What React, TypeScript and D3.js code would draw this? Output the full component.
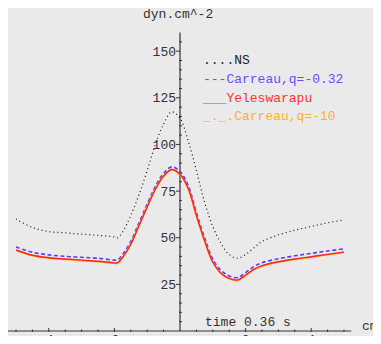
import React, { useRef, useEffect } from 'react';
import * as d3 from 'd3';

// distance along vessel (cm)
const xs = [-5, -4.5, -4, -3.5, -3, -2.5, -2, -1.9, -1.75, -1.5, -1.25, -1, -0.75, -0.5, -0.25, 0, 0.25, 0.5, 0.75, 1, 1.25, 1.5, 1.75, 2, 2.25, 2.5, 3, 3.5, 4, 4.5, 5];

// wall shear stress (dyn.cm^-2)
const nsValues = [60, 55.5, 53.3, 52.6, 51.9, 51.3, 50.4, 50, 53, 62, 73, 86, 100, 111, 117.5, 114, 102, 86, 69, 56, 47, 41, 39, 41, 44.5, 48, 51.5, 54, 56, 58, 59.5];
const carreauValues = [45, 42.2, 40.8, 40, 39.5, 39, 38, 38.1, 41, 48, 58, 68, 77.5, 84.5, 88, 85.5, 78, 63.5, 50, 38.5, 32.5, 29.5, 28.6, 31.3, 34.5, 36.6, 38.7, 40.3, 41.6, 42.9, 44];
const yeleValues = [43.4, 40.6, 39.3, 38.6, 38, 37.4, 36.5, 36.6, 39.5, 46.5, 56.5, 66.5, 76, 83, 86.6, 84, 76.5, 62, 48.5, 37, 31, 28.2, 27.3, 30, 33, 35, 37.1, 38.6, 39.8, 41.1, 42.3];
const carreau10Values = [43.2, 40.4, 39.1, 38.4, 37.8, 37.2, 36.3, 36.4, 39.4, 46.6, 56.6, 66.6, 76.1, 83, 86.5, 83.8, 76.3, 61.8, 48.3, 36.8, 30.8, 28, 27.1, 29.8, 32.8, 34.8, 36.9, 38.4, 39.6, 40.9, 42.1];

const xMajor = [-4, -2, 2, 4];
const yMajor = [25, 50, 75, 100, 125, 150];

const legendItems = [
    { label: '....NS', color: '#222' },
    { label: '---Carreau,q=-0.32', color: '#6a4cff' },
    { label: '___Yeleswarapu', color: '#ff3030' },
    { label: '_._.Carreau,q=-10', color: '#ffb020' },
];

const W = 381, H = 344;
const FONT = '"Liberation Mono", "DejaVu Sans Mono", monospace';

export default function App() {
    const svgRef = useRef<SVGSVGElement | null>(null);

    useEffect(() => {
        if (!svgRef.current) return;
        const svg = d3.select(svgRef.current);
        svg.selectAll("*").remove();

        svg.append("rect").attr("width", W).attr("height", H).attr("fill", "#eaeaea");

        const x = d3.scaleLinear().domain([-5, 5]).range([16, 344]);
        const y = d3.scaleLinear().domain([0, 160]).range([331, 32.5]);
        const x0 = x(0), y0 = y(0);

        // axes lines
        svg.append("line").attr("x1", x(-5.3)).attr("x2", x(5.22)).attr("y1", y0).attr("y2", y0)
            .attr("stroke", "#333").attr("stroke-width", 1);
        svg.append("line").attr("x1", x0).attr("x2", x0).attr("y1", y0).attr("y2", y(160))
            .attr("stroke", "#111").attr("stroke-width", 1);

        // x ticks
        const xMinor = d3.range(-5, 5.01, 0.5).filter(v => v !== 0 && !xMajor.includes(v));
        svg.selectAll("line.xmin").data(xMinor).join("line").attr("class", "xmin")
            .attr("x1", d => x(d)).attr("x2", d => x(d)).attr("y1", y0 - 1.5).attr("y2", y0 + 1)
            .attr("stroke", "#333");
        svg.selectAll("line.xmaj").data(xMajor).join("line").attr("class", "xmaj")
            .attr("x1", d => x(d)).attr("x2", d => x(d)).attr("y1", y0 - 3).attr("y2", y0 + 1)
            .attr("stroke", "#333");
        svg.selectAll("text.xlab").data(xMajor).join("text").attr("class", "xlab")
            .attr("x", d => x(d) - (d < 0 ? 3 : 0)).attr("y", y0 + 13)
            .attr("text-anchor", "middle").attr("font-family", FONT).attr("font-size", 13).attr("fill", "#333")
            .text(d => d < 0 ? `-${-d}` : `${d}`);

        // y ticks
        const yMinor = d3.range(5, 160, 5).filter(v => !yMajor.includes(v));
        svg.selectAll("line.ymin").data(yMinor).join("line").attr("class", "ymin")
            .attr("x1", x0 - 1).attr("x2", x0 + 2).attr("y1", d => y(d)).attr("y2", d => y(d))
            .attr("stroke", "#333");
        svg.selectAll("line.ymaj").data(yMajor).join("line").attr("class", "ymaj")
            .attr("x1", x0 - 4).attr("x2", x0).attr("y1", d => y(d)).attr("y2", d => y(d))
            .attr("stroke", "#333");
        svg.selectAll("text.ylab").data(yMajor).join("text").attr("class", "ylab")
            .attr("x", x0 - 4).attr("y", d => y(d)).attr("dy", "0.35em")
            .attr("text-anchor", "end").attr("font-family", FONT).attr("font-size", 13).attr("fill", "#333")
            .text(d => d);

        // axis labels
        svg.append("text").attr("x", 143).attr("y", 18).attr("font-family", FONT).attr("font-size", 13)
            .attr("fill", "#333").text("dyn.cm^-2");
        svg.append("text").attr("x", 362).attr("y", 330).attr("font-family", FONT).attr("font-size", 13)
            .attr("fill", "#333").text("cm");
        svg.append("text").attr("x", 205).attr("y", 326).attr("font-family", FONT).attr("font-size", 13)
            .attr("fill", "#333").text("time 0.36 s");

        const line = (vals: number[]) => d3.line<number>()
            .x((_, i) => x(xs[i])).y(d => y(d))
            .curve(d3.curveCatmullRom.alpha(0.5))(vals);

        // curves
        svg.append("path").attr("d", line(nsValues)).attr("fill", "none")
            .attr("stroke", "#111").attr("stroke-width", 1.2).attr("stroke-dasharray", "1,3");
        svg.append("path").attr("d", line(carreauValues)).attr("fill", "none")
            .attr("stroke", "#5a3cff").attr("stroke-width", 1.6).attr("stroke-dasharray", "4,2.5");
        svg.append("path").attr("d", line(carreau10Values)).attr("fill", "none")
            .attr("stroke", "#ffb020").attr("stroke-width", 1.8);
        svg.append("path").attr("d", line(yeleValues)).attr("fill", "none")
            .attr("stroke", "#ff2020").attr("stroke-width", 1.4);

        // legend
        svg.selectAll("text.leg").data(legendItems).join("text").attr("class", "leg")
            .attr("x", 203).attr("y", (_, i) => 64 + i * 18.8)
            .attr("font-family", FONT).attr("font-size", 13)
            .attr("fill", d => d.color).text(d => d.label);
    }, []);

    return (
        <div style={{ width: W, height: H, margin: -8 }}>
            <svg ref={svgRef} width={W} height={H} style={{ display: 'block' }}></svg>
        </div>
    );
}
